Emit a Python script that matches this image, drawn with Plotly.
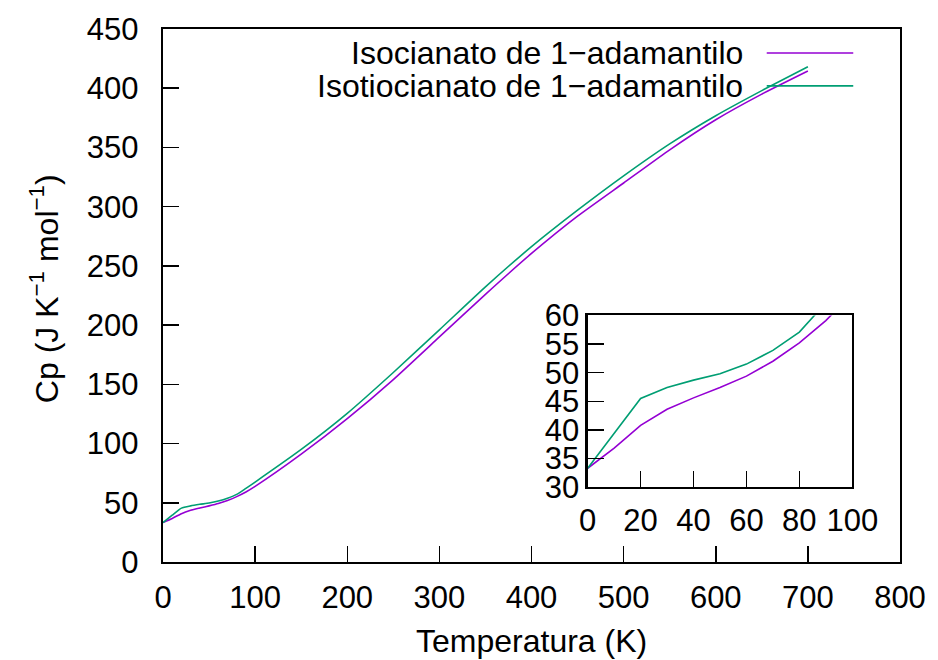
import plotly.graph_objects as go

# ---- data ----
temperature = [0, 10, 20, 30, 40, 50, 60, 70, 80, 90, 100,
               150, 200, 250, 300, 350, 400, 450, 500, 550, 600, 650, 700]
cp_isocianato = [33.3, 36.8, 40.8, 43.6, 45.6, 47.4, 49.4, 52.0, 55.2, 59.1, 63.8,
                 91.0, 121.0, 154.0, 190.0, 226.0, 260.5, 292.0, 320.0, 348.0, 373.4, 395.0, 414.5]
cp_isotiocianato = [33.3, 39.5, 45.5, 47.4, 48.7, 49.8, 51.5, 53.9, 57.1, 62.2, 67.5,
                    95.0, 125.5, 160.0, 196.0, 232.3, 266.2, 297.0, 326.0, 353.0, 376.8, 398.0, 418.1]

series_names = ["Isocianato de 1−adamantilo", "Isotiocianato de 1−adamantilo"]
series_colors = ["#9400d3", "#009e73"]

main_x_ticks = [0, 100, 200, 300, 400, 500, 600, 700, 800]
main_y_ticks = [0, 50, 100, 150, 200, 250, 300, 350, 400, 450]
inset_x_ticks = [0, 20, 40, 60, 80, 100]
inset_y_ticks = [30, 35, 40, 45, 50, 55, 60]

# ---- layout geometry (pixels) ----
W, H = 938, 660
L, R, T, B = 163, 904, 28, 562
PW, PH = R - L, B - T


def px(xp):
    return (xp - L) / PW


def py(yp):
    return (B - yp) / PH


FONT = "Liberation Sans, Arial, Helvetica, sans-serif"
FS_TICK = 31
FS_TEXT = 32

fig = go.Figure()
series = [cp_isocianato, cp_isotiocianato]
for name, ys, col in zip(series_names, series, series_colors):
    fig.add_trace(go.Scatter(x=temperature, y=ys, mode="lines", name=name,
                             line=dict(color=col, width=1.6, shape="spline", smoothing=0.5),
                             xaxis="x", yaxis="y", showlegend=False, hoverinfo="skip"))
    fig.add_trace(go.Scatter(x=temperature, y=ys, mode="lines", name=name,
                             line=dict(color=col, width=1.6),
                             xaxis="x2", yaxis="y2", showlegend=False, cliponaxis=True,
                             hoverinfo="skip"))

axis_common = dict(showgrid=False, zeroline=False, showline=True, mirror=True,
                   linecolor="black", linewidth=2.2, ticks="inside", tickcolor="black",
                   tickwidth=1.5, ticklen=16,
                   tickfont=dict(family=FONT, size=FS_TICK, color="black"))

fig.update_layout(
    width=W, height=H,
    margin=dict(l=L, r=W - R, t=T, b=H - B, pad=0),
    paper_bgcolor="white", plot_bgcolor="white",
    font=dict(family=FONT, size=FS_TEXT, color="black"),
    xaxis=dict(range=[0, 800], tickvals=main_x_ticks, domain=[0, 1], anchor="y",
               ticklabelstandoff=7, **axis_common),
    yaxis=dict(range=[0, 450], tickvals=main_y_ticks, domain=[0, 1], anchor="x",
               ticklabelstandoff=16, **axis_common),
    xaxis2=dict(range=[0, 100], tickvals=inset_x_ticks, domain=[px(590), px(856)],
                anchor="y2", ticklabelstandoff=4, **axis_common),
    yaxis2=dict(range=[30, 60], tickvals=inset_y_ticks, domain=[py(487), py(315)],
                anchor="x2", ticklabelstandoff=0, **axis_common),
)

# axis titles
fig.add_annotation(x=0.5, y=py(641), xref="paper", yref="paper", showarrow=False,
                   text="Temperatura (K)", font=dict(family=FONT, size=FS_TEXT),
                   xanchor="center", yanchor="middle")
fig.add_annotation(x=px(43), y=py(288), xref="paper", yref="paper", showarrow=False,
                   text="Cp (J K<sup>−1</sup> mol<sup>−1</sup>)", textangle=-90,
                   font=dict(family=FONT, size=FS_TEXT), xanchor="center", yanchor="middle")

# gnuplot-style legend (text right-aligned, sample line on the right)
legend_rows = [52, 85]
for name, col, yrow in zip(series_names, series_colors, legend_rows):
    fig.add_annotation(x=px(748), y=py(yrow), xref="paper", yref="paper", showarrow=False,
                       text=name, font=dict(family=FONT, size=FS_TEXT),
                       xanchor="right", yanchor="middle")
    fig.add_shape(type="line", xref="paper", yref="paper",
                  x0=px(770), x1=px(857), y0=py(yrow), y1=py(yrow),
                  line=dict(color=col, width=1.6))

fig.write_html("out.html",
               config={"displayModeBar": False, "staticPlot": True},
               post_script="document.body.style.margin='0';document.body.style.overflow='hidden';")
